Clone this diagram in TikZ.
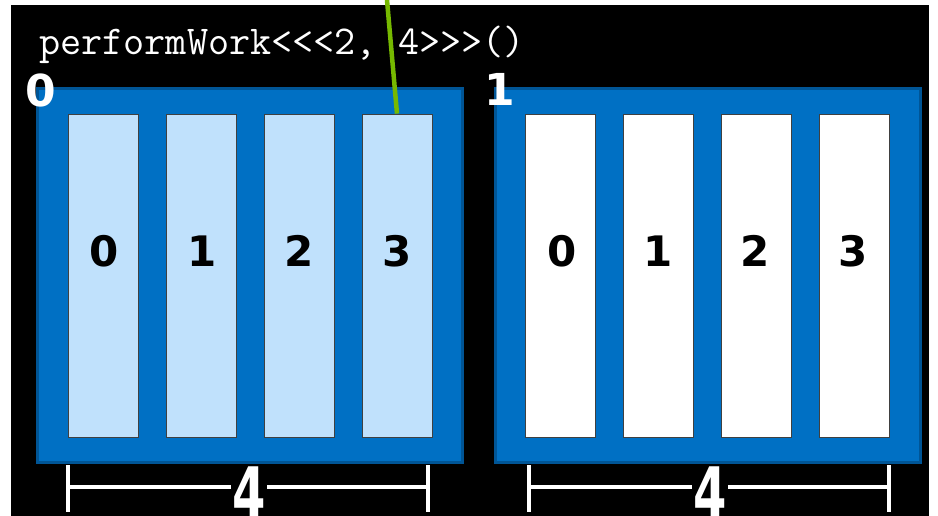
\documentclass[tikz,border=0pt]{standalone}
\usepackage{fontspec}
\newfontfamily\digitfont{DejaVu Sans}
\definecolor{blockblue}{HTML}{0070C4}
\definecolor{blockedge}{HTML}{005596}
\definecolor{cellblue}{HTML}{C0E1FC}
\definecolor{nvgreen}{HTML}{76B900}
\tikzset{
  block/.style={draw=blockedge, fill=blockblue, line width=3pt, minimum width=425pt, minimum height=373pt, inner sep=0pt},
  cellon/.style={draw=black!75, fill=cellblue, line width=0.8pt, minimum width=70pt, minimum height=323pt, inner sep=0pt},
  celloff/.style={cellon, fill=white},
  digit/.style={font=\digitfont\bfseries\fontsize{42}{42}\selectfont, text=black, inner sep=0pt},
  blocklabel/.style={font=\digitfont\bfseries\fontsize{44}{44}\selectfont, text=white, inner sep=0pt},
  bracket/.style={draw=white, line width=4pt},
  dimlabel/.style={font=\digitfont\bfseries\fontsize{48}{48}\selectfont, text=white, fill=black, inner sep=1pt, yscale=1.45},
  code/.style={font=\ttfamily\fontsize{41}{41}\selectfont, text=white, inner sep=0pt}
}
\begin{document}
\begin{tikzpicture}[x=1pt,y=-1pt]
\useasboundingbox (0,0) rectangle (938,516);
\fill[white] (0,0) rectangle (938,516);
\fill[black] (11,5) rectangle (929,516);

% blocks
\node[block] (b0) at (250,275.5) {};
\node[block] (b1) at (708,275.5) {};

% cells of block 0
\node[cellon] (c00) at (103,275.5) {};
\node[cellon] (c01) at (201,275.5) {};
\node[cellon] (c02) at (299,275.5) {};
\node[cellon] (c03) at (397,275.5) {};
% cells of block 1
\node[celloff] (c10) at (560.5,275.5) {};
\node[celloff] (c11) at (658.5,275.5) {};
\node[celloff] (c12) at (756.5,275.5) {};
\node[celloff] (c13) at (854.5,275.5) {};

% digits
\node[digit] (d00) at (104,251) {0};
\node[digit] (d01) at (202,251) {1};
\node[digit] (d02) at (299,251) {2};
\node[digit] (d03) at (397,251) {3};
\node[digit] (d10) at (562,251) {0};
\node[digit] (d11) at (658,251) {1};
\node[digit] (d12) at (755,251) {2};
\node[digit] (d13) at (853,251) {3};

% block labels
\node[blocklabel] (l0) at (41,90) {0};
\node[blocklabel] (l1) at (500,89) {1};

% code text
\node[code, anchor=base west] (code) at (39,55) {performWork<<<2, 4>>>()};

% green thread pointer
\coordinate (gtop) at (387,0);
\draw[nvgreen, line width=4.5pt] (gtop) -- (c03.north);

% dimension brackets
\coordinate (a0) at (68,465); \coordinate (a1) at (68,512);
\coordinate (a2) at (428,465); \coordinate (a3) at (428,512);
\coordinate (am) at (68,487); \coordinate (an) at (428,487);
\draw[bracket] (a0) -- (a1);
\draw[bracket] (a2) -- (a3);
\draw[bracket] (am) -- (an);
\node[dimlabel] (n0) at (249,492) {4};

\coordinate (e0) at (529,465); \coordinate (e1) at (529,512);
\coordinate (e2) at (889,465); \coordinate (e3) at (889,512);
\coordinate (em) at (529,487); \coordinate (en) at (889,487);
\draw[bracket] (e0) -- (e1);
\draw[bracket] (e2) -- (e3);
\draw[bracket] (em) -- (en);
\node[dimlabel] (n1) at (710,492) {4};
\end{tikzpicture}
\end{document}
